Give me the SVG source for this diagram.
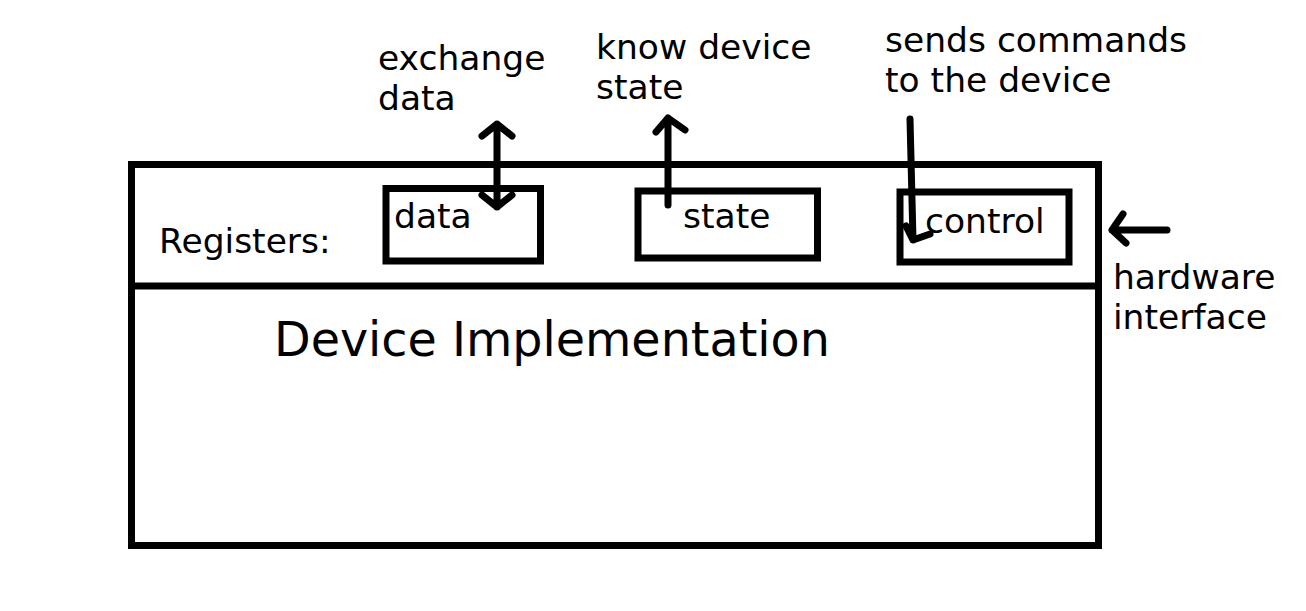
<svg xmlns="http://www.w3.org/2000/svg" width="1306" height="611" viewBox="0 0 1306 611">
<style>
text{font-family:"DejaVu Sans","Liberation Sans",sans-serif;fill:#000;font-size:34.5px}
.box{fill:none;stroke:#000;stroke-width:7}
.reg{fill:none;stroke:#000;stroke-width:7}
.ln{fill:none;stroke:#000;stroke-width:7;stroke-linecap:round;stroke-linejoin:round}
.big{font-size:47.6px}
</style>
<rect width="1306" height="611" fill="#fff"/>
<g id="device">
<rect class="box" x="131.5" y="164.5" width="967" height="381"/>
<line class="box" x1="131.5" y1="286" x2="1098.5" y2="286"/>
<text x="159" y="253">Registers:</text>
<text class="big" x="274" y="356">Device Implementation</text>
</g>
<g id="reg-data">
<rect class="reg" x="386" y="188.5" width="154.5" height="72.5"/>
<text x="394" y="228">data</text>
</g>
<g id="reg-state">
<rect class="reg" x="638" y="191" width="179.5" height="67"/>
<text x="683" y="228">state</text>
</g>
<g id="reg-control">
<rect class="reg" x="900" y="192" width="169" height="70"/>
<text x="925" y="233">control</text>
</g>
<g id="label-exchange"><text x="378" y="70">exchange</text><text x="378" y="110">data</text></g>
<g id="label-know"><text x="596" y="59">know device</text><text x="596" y="99">state</text></g>
<g id="label-sends"><text x="885" y="52">sends commands</text><text x="885" y="92">to the device</text></g>
<g id="label-hw"><text x="1113" y="289">hardware</text><text x="1113" y="329">interface</text></g>
<g id="connectors">
<path class="ln" d="M497,124 L497,207 M482,136 L497,124 L512,136 M482,195 L497,207 L512,195"/>
<path class="ln" d="M668,205 L668,118 M656,132 L668,118 L685,130"/>
<path class="ln" d="M910,119 L913,240 M906,226 L913,240 L930,234"/>
<path class="ln" d="M1167,230 L1112,230 M1123,214 L1112,230 L1126,243"/>
</g>
</svg>
